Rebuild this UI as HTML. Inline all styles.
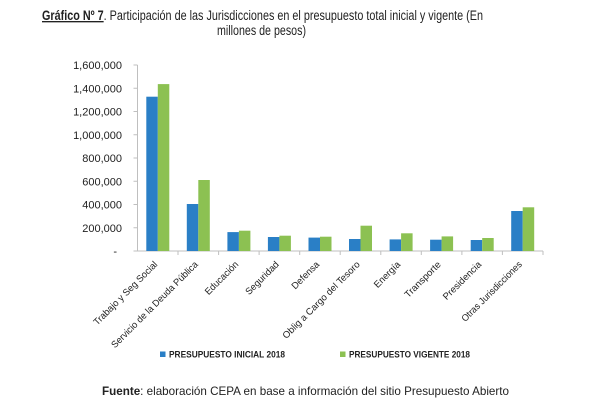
<!DOCTYPE html>
<html><head><meta charset="utf-8"><style>
html,body{margin:0;padding:0;background:#fff;}
svg{display:block;}
text{font-family:"Liberation Sans",sans-serif;fill:#222;}
</style></head><body>
<svg width="615" height="410" viewBox="0 0 615 410" xmlns="http://www.w3.org/2000/svg">
<rect width="615" height="410" fill="#fff"/>
<!-- Title -->
<text x="42" y="20" font-size="13.5" textLength="441" lengthAdjust="spacingAndGlyphs"><tspan font-weight="bold" text-decoration="underline">Gráfico Nº 7</tspan>. Participación de las Jurisdicciones en el presupuesto total inicial y vigente (En</text>
<text x="217" y="35" font-size="13.5" textLength="89" lengthAdjust="spacingAndGlyphs">millones de pesos)</text>

<!-- Y axis labels -->
<g font-size="11" text-anchor="end">
<text x="122" y="69">1,600,000</text>
<text x="122" y="92.3">1,400,000</text>
<text x="122" y="115.5">1,200,000</text>
<text x="122" y="138.8">1,000,000</text>
<text x="122" y="162">800,000</text>
<text x="122" y="185.3">600,000</text>
<text x="122" y="208.5">400,000</text>
<text x="122" y="231.8">200,000</text>
<text x="117" y="255">-</text>
</g>

<!-- Axes -->
<g stroke="#bfbfbf" stroke-width="1" fill="none">
<line x1="137.5" y1="65" x2="137.5" y2="251"/>
<line x1="137.5" y1="251" x2="543" y2="251"/>
<line x1="133.5" y1="65" x2="137.5" y2="65"/>
<line x1="133.5" y1="88.25" x2="137.5" y2="88.25"/>
<line x1="133.5" y1="111.5" x2="137.5" y2="111.5"/>
<line x1="133.5" y1="134.75" x2="137.5" y2="134.75"/>
<line x1="133.5" y1="158" x2="137.5" y2="158"/>
<line x1="133.5" y1="181.25" x2="137.5" y2="181.25"/>
<line x1="133.5" y1="204.5" x2="137.5" y2="204.5"/>
<line x1="133.5" y1="227.75" x2="137.5" y2="227.75"/>
<line x1="133.5" y1="251" x2="137.5" y2="251"/>
<line x1="178" y1="251" x2="178" y2="255"/>
<line x1="218.6" y1="251" x2="218.6" y2="255"/>
<line x1="259.1" y1="251" x2="259.1" y2="255"/>
<line x1="299.7" y1="251" x2="299.7" y2="255"/>
<line x1="340.2" y1="251" x2="340.2" y2="255"/>
<line x1="380.8" y1="251" x2="380.8" y2="255"/>
<line x1="421.3" y1="251" x2="421.3" y2="255"/>
<line x1="461.9" y1="251" x2="461.9" y2="255"/>
<line x1="502.4" y1="251" x2="502.4" y2="255"/>
<line x1="543" y1="251" x2="543" y2="255"/>
</g>

<!-- Bars -->
<g fill="#2a7fc6">
<rect x="146.3" y="96.7" width="11.5" height="154.3"/>
<rect x="186.8" y="204" width="11.5" height="47"/>
<rect x="227.4" y="232.1" width="11.5" height="18.9"/>
<rect x="267.9" y="237" width="11.5" height="14"/>
<rect x="308.5" y="237.6" width="11.5" height="13.4"/>
<rect x="349" y="239" width="11.5" height="12"/>
<rect x="389.6" y="239.4" width="11.5" height="11.6"/>
<rect x="430.1" y="239.7" width="11.5" height="11.3"/>
<rect x="470.7" y="240" width="11.5" height="11"/>
<rect x="511.2" y="211" width="11.5" height="40"/>
</g>
<g fill="#8cc152">
<rect x="157.8" y="84.1" width="11.5" height="166.9"/>
<rect x="198.3" y="180" width="11.5" height="71"/>
<rect x="238.9" y="230.7" width="11.5" height="20.3"/>
<rect x="279.4" y="235.7" width="11.5" height="15.3"/>
<rect x="320" y="236.7" width="11.5" height="14.3"/>
<rect x="360.5" y="225.7" width="11.5" height="25.3"/>
<rect x="401.1" y="233.3" width="11.5" height="17.7"/>
<rect x="441.6" y="236.4" width="11.5" height="14.6"/>
<rect x="482.2" y="238" width="11.5" height="13"/>
<rect x="522.7" y="207.3" width="11.5" height="43.7"/>
</g>

<!-- X labels -->
<g font-size="9.5" text-anchor="end" fill="#222">
<text transform="translate(158,265) rotate(-45)" textLength="86" lengthAdjust="spacingAndGlyphs">Trabajo y Seg Social</text>
<text transform="translate(198.5,265) rotate(-45)" textLength="118" lengthAdjust="spacingAndGlyphs">Servicio de la Deuda Pública</text>
<text transform="translate(239,265) rotate(-45)" textLength="43" lengthAdjust="spacingAndGlyphs">Educación</text>
<text transform="translate(279.5,265) rotate(-45)" textLength="43" lengthAdjust="spacingAndGlyphs">Seguridad</text>
<text transform="translate(320,265) rotate(-45)" textLength="35" lengthAdjust="spacingAndGlyphs">Defensa</text>
<text transform="translate(360.5,265) rotate(-45)" textLength="105" lengthAdjust="spacingAndGlyphs">Oblig a Cargo del Tesoro</text>
<text transform="translate(401,265) rotate(-45)" textLength="33" lengthAdjust="spacingAndGlyphs">Energía</text>
<text transform="translate(441.5,265) rotate(-45)" textLength="47" lengthAdjust="spacingAndGlyphs">Transporte</text>
<text transform="translate(482,265) rotate(-45)" textLength="50" lengthAdjust="spacingAndGlyphs">Presidencia</text>
<text transform="translate(522.5,265) rotate(-45)" textLength="81" lengthAdjust="spacingAndGlyphs">Otras Jurisdicciones</text>
</g>

<!-- Legend -->
<rect x="160" y="351.5" width="5.5" height="5.5" fill="#2a7fc6"/>
<text x="169" y="357.5" font-size="9.2" font-weight="bold" fill="#333" textLength="116" lengthAdjust="spacingAndGlyphs">PRESUPUESTO INICIAL 2018</text>
<rect x="340" y="351.5" width="5.5" height="5.5" fill="#8cc152"/>
<text x="349" y="357.5" font-size="9.2" font-weight="bold" fill="#333" textLength="121" lengthAdjust="spacingAndGlyphs">PRESUPUESTO VIGENTE 2018</text>

<!-- Footer -->
<text x="102" y="395" font-size="12" textLength="407" lengthAdjust="spacingAndGlyphs"><tspan font-weight="bold">Fuente</tspan>: elaboración CEPA en base a información del sitio Presupuesto Abierto</text>
</svg>
</body></html>
